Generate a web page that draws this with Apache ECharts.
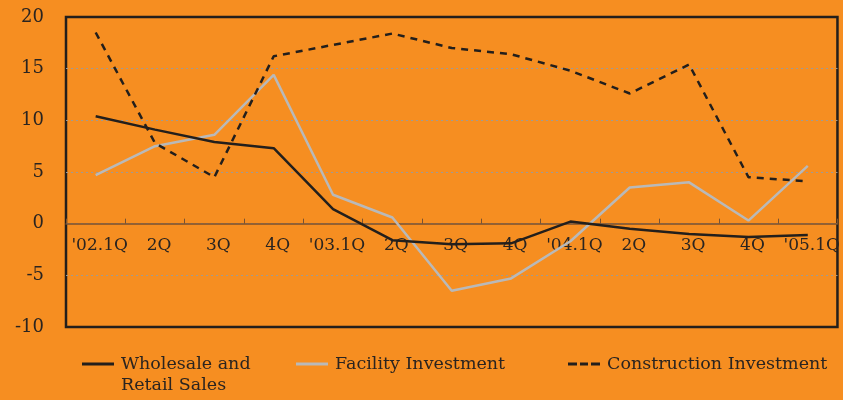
<!DOCTYPE html>
<html>
<head>
<meta charset="utf-8">
<script src="https://cdn.jsdelivr.net/npm/echarts@6/dist/echarts.min.js"></script>
<style>
  html, body { margin: 0; padding: 0; background: #F68E21; }
  #chart { width: 843px; height: 400px; }
</style>
</head>
<body>
<div id="chart"></div>
<script>
// Quarterly growth rates (%, y-o-y)
const quarters = ["'02.1Q", "2Q", "3Q", "4Q", "'03.1Q", "2Q", "3Q", "4Q", "'04.1Q", "2Q", "3Q", "4Q", "'05.1Q"];
const wholesaleRetail = [10.4, 9.1, 7.9, 7.3, 1.4, -1.6, -2.0, -1.9, 0.2, -0.5, -1.0, -1.3, -1.1];
const facilityInvestment = [4.7, 7.5, 8.6, 14.4, 2.8, 0.6, -6.5, -5.3, -1.7, 3.5, 4.0, 0.3, 5.6];
const constructionInvestment = [18.5, 7.8, 4.5, 16.2, 17.3, 18.4, 17.0, 16.4, 14.8, 12.6, 15.4, 4.5, 4.1];

const seriesNames = ['Wholesale and\nRetail Sales', 'Facility Investment', 'Construction Investment'];

const ink = '#2a2420';
const font = 'DejaVu Serif';

// plot box geometry (px)
const gridTop = 17, gridBottom = 73, chartH = 400;
const yMin = -10, yMax = 20;
const plotH = chartH - gridTop - gridBottom;
// shift the category axis up from the bottom edge to the zero line
const zeroOffset = -plotH * (0 - yMin) / (yMax - yMin);

const solidIcon = 'path://M0,0H32V3H0Z';
const dashIcon = 'path://M0,0H9V3H0Z M12,0H20V3H12Z M23,0H32V3H23Z';

const legendLine = 21;   // legend text line height
const legendY = 364;     // centre of the legend icons

const chart = echarts.init(document.getElementById('chart'), null, { renderer: 'canvas' });

// A leading blank line keeps the first text line level with the icon
function legendAt(name, left, icon) {
  const lines = name.split('\n').length;
  const blockLines = lines > 1 ? lines * 2 - 1 : 1;
  return {
    data: [{ name: name, icon: icon }],
    left: left,
    top: legendY - blockLines * legendLine / 2,
    padding: 0,
    itemWidth: 32,
    itemHeight: 3,
    formatter: n => (lines > 1 ? '\n'.repeat(lines - 1) : '') + n,
    textStyle: {
      fontFamily: font,
      fontSize: 17.5,
      color: ink,
      lineHeight: legendLine,
      padding: [0, 0, 0, 2]
    }
  };
}

chart.setOption({
  backgroundColor: '#F68E21',
  animation: false,
  grid: {
    left: 66, right: 5, top: gridTop, bottom: gridBottom,
    show: true,
    borderColor: '#231f1c',
    borderWidth: 2.5,
    backgroundColor: 'transparent'
  },
  legend: [
    legendAt(seriesNames[0], 82, solidIcon),
    legendAt(seriesNames[1], 296, solidIcon),
    legendAt(seriesNames[2], 568, dashIcon)
  ],
  xAxis: {
    type: 'category',
    data: quarters,
    boundaryGap: true,
    position: 'bottom',
    offset: zeroOffset,
    axisLine: { onZero: false, lineStyle: { color: '#7a5230', width: 1.5 } },
    axisTick: { show: true, inside: true, length: 5, lineStyle: { color: '#7a5230', width: 1 } },
    axisLabel: {
      fontFamily: font, fontSize: 17, color: ink, margin: 13, interval: 0,
      padding: [0, 0, 0, 8]
    },
    splitLine: { show: false }
  },
  yAxis: {
    type: 'value',
    min: yMin, max: yMax, interval: 5,
    axisLine: { show: false },
    axisTick: { show: false },
    axisLabel: { fontFamily: font, fontSize: 18, color: ink, margin: 22 },
    splitLine: {
      show: true, showMinLine: false, showMaxLine: false,
      lineStyle: { color: '#a09a92', width: 1, type: [2, 3] }
    }
  },
  series: [
    {
      name: seriesNames[1],
      type: 'line',
      data: facilityInvestment,
      symbol: 'none',
      z: 2,
      lineStyle: { color: '#b9b9b9', width: 2.5 },
      itemStyle: { color: '#b9b9b9' }
    },
    {
      name: seriesNames[0],
      type: 'line',
      data: wholesaleRetail,
      symbol: 'none',
      z: 3,
      lineStyle: { color: '#231f1c', width: 2.5 },
      itemStyle: { color: '#231f1c' }
    },
    {
      name: seriesNames[2],
      type: 'line',
      data: constructionInvestment,
      symbol: 'none',
      z: 4,
      lineStyle: { color: '#231f1c', width: 2.5, type: [7, 6] },
      itemStyle: { color: '#231f1c' }
    }
  ]
});
</script>
</body>
</html>
